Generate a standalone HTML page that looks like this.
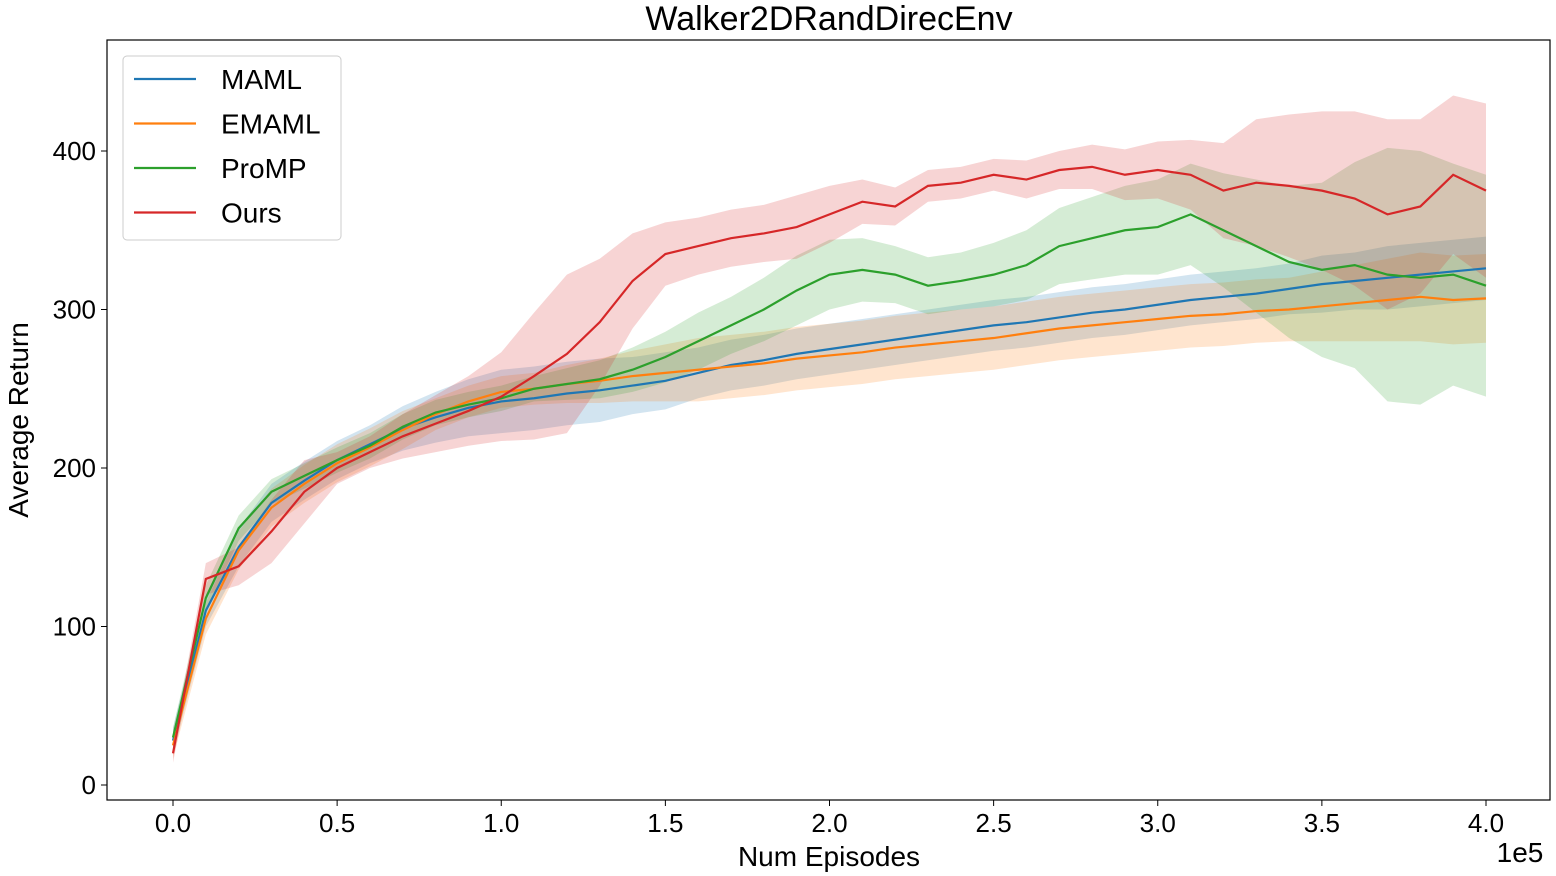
<!DOCTYPE html>
<html><head><meta charset="utf-8"><style>
body{margin:0;background:#fff;}
svg{display:block;font-family:"Liberation Sans","DejaVu Sans",sans-serif;}
</style></head><body>
<svg id="chart" width="1556" height="876" xmlns="http://www.w3.org/2000/svg">
<text x="829" y="30" font-size="34" text-anchor="middle">Walker2DRandDirecEnv</text>
<g id="bands"></g><g id="lines"></g>
<rect x="107" y="40" width="1443" height="760" fill="none" stroke="#000" stroke-width="1.2"/>
<g id="xticks"></g><g id="yticks"></g>
<text x="829" y="866" font-size="28" text-anchor="middle">Num Episodes</text>
<text x="1520" y="862" font-size="28" text-anchor="middle">1e5</text>
<text transform="translate(28,420) rotate(-90)" font-size="28" text-anchor="middle">Average Return</text>
<g>
<rect x="123" y="56" width="218" height="184" rx="4" fill="#fff" fill-opacity="0.85" stroke="#ccc"/>
<g id="legend"></g></g>
</svg>
<script>
const xs=[0,0.1,0.2,0.3,0.4,0.5,0.6,0.7,0.8,0.9,1.0,1.1,1.2,1.3,1.4,1.5,1.6,1.7,1.8,1.9,2.0,2.1,2.2,2.3,2.4,2.5,2.6,2.7,2.8,2.9,3.0,3.1,3.2,3.3,3.4,3.5,3.6,3.7,3.8,3.9,4.0];
const seriesNames=["MAML","EMAML","ProMP","Ours"];
const mamlMean=[28,110,150,178,192,205,215,225,232,238,242,244,247,249,252,255,260,265,268,272,275,278,281,284,287,290,292,295,298,300,303,306,308,310,313,316,318,320,322,324,326];
const mamlBand=[8,10,12,12,12,12,12,14,16,18,20,20,20,20,18,18,16,16,16,16,16,16,16,16,16,16,16,16,16,16,16,16,16,16,16,18,18,20,20,20,20];
const emamlMean=[25,105,148,175,190,203,213,224,234,242,248,250,253,255,258,260,262,264,266,269,271,273,276,278,280,282,285,288,290,292,294,296,297,299,300,302,304,306,308,306,307];
const emamlBand=[8,10,12,12,12,12,12,12,10,10,10,10,12,14,16,18,20,20,20,20,20,20,20,20,20,20,20,20,20,20,20,20,20,20,20,22,24,26,28,28,28];
const prompMean=[30,118,162,185,195,205,214,226,235,240,244,250,253,256,262,270,280,290,300,312,322,325,322,315,318,322,328,340,345,350,352,360,350,340,330,325,328,322,320,322,315];
const prompBand=[6,8,8,8,8,8,8,8,8,8,8,8,10,12,14,16,18,18,20,22,22,20,18,18,18,20,22,24,26,28,30,32,36,42,48,55,65,80,80,70,70];
const oursMean=[20,130,138,160,185,200,210,220,228,236,245,258,272,292,318,335,340,345,348,352,360,368,365,378,380,385,382,388,390,385,388,385,375,380,378,375,370,360,365,385,375];
const oursBand=[6,10,12,20,20,10,10,14,18,22,28,40,50,40,30,20,18,18,18,20,18,14,12,10,10,10,12,12,14,16,18,22,30,40,45,50,55,60,55,50,55];
const xTicks=[0,0.5,1.0,1.5,2.0,2.5,3.0,3.5,4.0];
const xTickLabels=["0.0","0.5","1.0","1.5","2.0","2.5","3.0","3.5","4.0"];
const yTicks=[0,100,200,300,400];
const yTickLabels=["0","100","200","300","400"];
const colors=["#1f77b4","#ff7f0e","#2ca02c","#d62728"];
const means=[mamlMean,emamlMean,prompMean,oursMean];
const bands=[mamlBand,emamlBand,prompBand,oursBand];
const NS="http://www.w3.org/2000/svg";
function X(v){return 173+v*328.25;}
function Y(v){return 785-v*1.585;}
function mk(t,a,p){const e=document.createElementNS(NS,t);for(const k in a)e.setAttribute(k,a[k]);p.appendChild(e);return e;}
const gb=document.getElementById('bands'),gl=document.getElementById('lines');
for(let s=0;s<4;s++){
  let up=xs.map((x,i)=>X(x)+','+Y(means[s][i]+bands[s][i]));
  let dn=xs.map((x,i)=>X(x)+','+Y(means[s][i]-bands[s][i])).reverse();
  const b=mk('polygon',{points:up.concat(dn).join(' '),fill:colors[s],'fill-opacity':0.2},gb);
  
  
}
for(let s=0;s<4;s++){
  const l=mk('polyline',{points:xs.map((x,i)=>X(x)+','+Y(means[s][i])).join(' '),fill:'none',stroke:colors[s],'stroke-width':2.2},gl);
  
  
}
const gx=document.getElementById('xticks');
xTicks.forEach((t,i)=>{
  const ln=mk('line',{x1:X(t),x2:X(t),y1:800,y2:806,stroke:'#000'},gx);
  
  
  const tx=mk('text',{x:X(t),y:832,'font-size':26,'text-anchor':'middle'},gx);tx.textContent=xTickLabels[i];
  
  
});
const gy=document.getElementById('yticks');
yTicks.forEach((t,i)=>{
  const ln=mk('line',{x1:101,x2:107,y1:Y(t),y2:Y(t),stroke:'#000'},gy);
  
  
  const tx=mk('text',{x:96,y:Y(t)+9,'font-size':26,'text-anchor':'end'},gy);tx.textContent=yTickLabels[i];
  
  
});
const lg=document.getElementById('legend');
seriesNames.forEach((n,i)=>{
  const y=79+i*44.5;
  const ln=mk('line',{x1:134,x2:196,y1:y,y2:y,stroke:colors[i],'stroke-width':2.2},lg);
  
  
  const tx=mk('text',{x:221,y:y+10,'font-size':28},lg);tx.textContent=n;
  
  
});
</script>
</body></html>
